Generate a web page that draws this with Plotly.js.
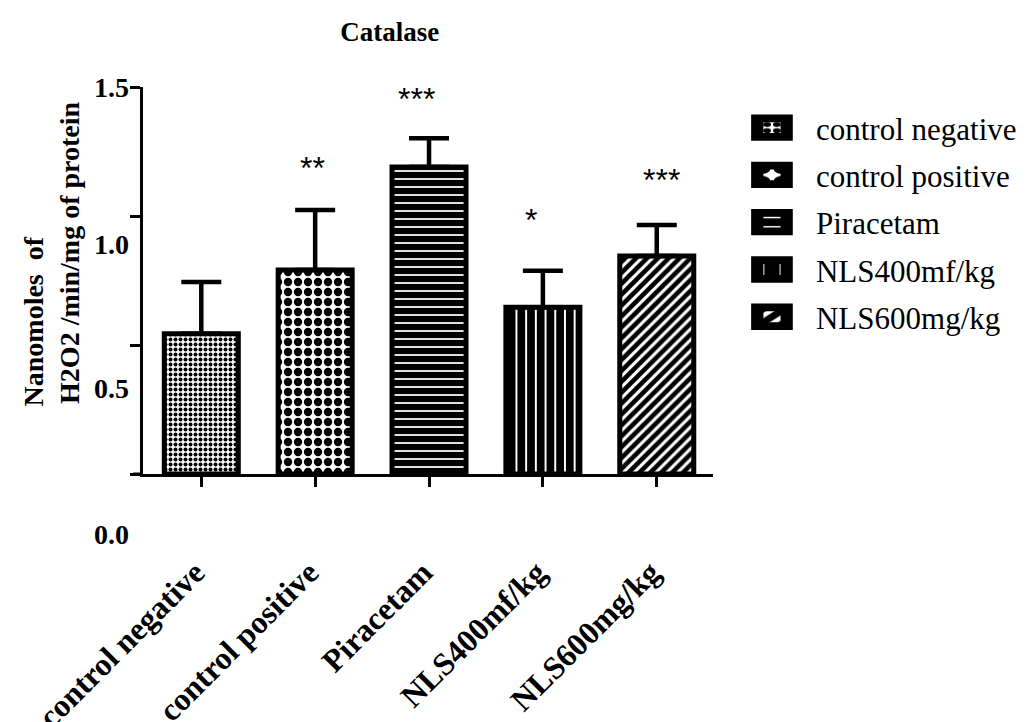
<!DOCTYPE html>
<html><head><meta charset="utf-8">
<script src="https://cdn.plot.ly/plotly-3.0.1.min.js"></script>
<style>
html,body{margin:0;padding:0;background:#fff}
#chart{width:1034px;height:722px}
#chart .legendpoints path{transform-box:view-box;transform-origin:0 0;transform:translate(58px,0px) scale(2.45,1.55)}
</style>
</head><body><div id="chart"></div>
<script>
const categories = ['control negative','control positive','Piracetam','NLS400mf/kg','NLS600mg/kg'];
const meanValues = [0.544, 0.791, 1.190, 0.646, 0.845];
const sdValues = [0.200, 0.232, 0.111, 0.142, 0.120];
const sigLabels = ['', '**', '***', '*', '***'];
const yTickVals = [0, 0.5, 1.0, 1.5];
const yTickLabels = ['0.0', '0.5', '1.0', '1.5'];
const yTickLabelPos = [-0.233, 0.333, 0.888, 1.5];

const patterns = [
  {shape: '.', fgcolor: '#000', bgcolor: '#fff', size: 5, solidity: 0.5},
  {shape: '.', fgcolor: '#000', bgcolor: '#fff', size: 10, solidity: 0.55},
  {shape: '-', fgcolor: '#fff', bgcolor: '#000', size: 8, solidity: 0.22},
  {shape: '|', fgcolor: '#fff', bgcolor: '#000', size: 9.7, solidity: 0.2},
  {shape: '/', fgcolor: '#000', bgcolor: '#fff', size: 7.7, solidity: 0.6}
];
const sigShift = [0, 42, 39, 51, 45];
const sigXShift = [0, -3, -13, -12, 5];

const serif = 'Liberation Serif, Times New Roman, serif';
const yMax = 1.5;

const traces = categories.map((c, i) => ({
  type: 'bar',
  name: c,
  legendgroup: 'g' + i,
  x: [c],
  y: [meanValues[i]],
  width: 0.65,
  marker: {color: '#fff', line: {color: '#000', width: 5}, pattern: patterns[i]},
  error_y: {type: 'data', symmetric: false, array: [sdValues[i]], arrayminus: [0],
            color: '#000', thickness: 4.5, width: 20},
  hoverinfo: 'skip'
}));

const annotations = [];
yTickLabels.forEach((t, i) => {
  annotations.push({text: t, xref: 'paper', x: 0, xshift: -12, xanchor: 'right',
    yref: 'paper', y: yTickLabelPos[i] / yMax, yanchor: 'middle', showarrow: false,
    font: {family: serif, size: 28, weight: 'bold', color: '#000'}});
});
categories.forEach((c, i) => {
  if (!sigLabels[i]) return;
  annotations.push({text: sigLabels[i], xref: 'x', x: c, xshift: sigXShift[i],
    yref: 'y', y: meanValues[i] + sdValues[i], yanchor: 'middle', yshift: sigShift[i],
    showarrow: false, font: {family: 'Liberation Sans, Arial, sans-serif', size: 32, color: '#000'}});
});
annotations.push({text: 'Nanomoles  of', textangle: -90, xref: 'paper', x: -0.1924, yref: 'paper', y: 0.395,
  xanchor: 'center', yanchor: 'middle', showarrow: false,
  font: {family: serif, size: 28, weight: 'bold', color: '#000'}});
annotations.push({text: 'H2O2 /min/mg of protein', textangle: -90, xref: 'paper', x: -0.1300, yref: 'paper', y: 0.571,
  xanchor: 'center', yanchor: 'middle', showarrow: false,
  font: {family: serif, size: 28, weight: 'bold', color: '#000'}});

const layout = {
  width: 1034, height: 722,
  margin: {l: 143, r: 314, t: 87, b: 248},
  paper_bgcolor: '#fff', plot_bgcolor: '#fff',
  barmode: 'overlay',
  showlegend: true,
  title: {text: '<b>Catalase</b>', xref: 'container', x: 0.377, xanchor: 'center',
          yref: 'container', y: 0.956, yanchor: 'middle',
          font: {family: serif, size: 27, color: '#000'}},
  xaxis: {
    type: 'category', categoryarray: categories, range: [-0.512, 4.494],
    showline: true, linecolor: '#000', linewidth: 3,
    ticks: 'outside', ticklen: 10, tickwidth: 3, tickcolor: '#000',
    tickangle: -45, ticklabelstandoff: 54, ticklabelshift: -6,
    tickfont: {family: serif, size: 32, weight: 'bold', color: '#000'},
    showgrid: false, zeroline: false, fixedrange: true
  },
  yaxis: {
    range: [0, yMax], tickvals: yTickVals, showticklabels: false,
    showline: true, linecolor: '#000', linewidth: 3,
    ticks: 'outside', ticklen: 10, tickwidth: 3, tickcolor: '#000',
    showgrid: false, zeroline: false, fixedrange: true
  },
  legend: {x: 1.0017, xanchor: 'left', y: 0.964, yanchor: 'top',
    font: {family: serif, size: 31, color: '#000'},
    itemwidth: 92, tracegroupgap: 4, bgcolor: 'rgba(0,0,0,0)'},
  shapes: [{type: 'line', xref: 'paper', x0: -0.0173, x1: 0, yref: 'y', y0: 0, y1: 0,
            line: {color: '#000', width: 3}}],
  annotations: annotations
};

Plotly.newPlot('chart', traces, layout, {staticPlot: true, displayModeBar: false});
</script>
</body></html>
